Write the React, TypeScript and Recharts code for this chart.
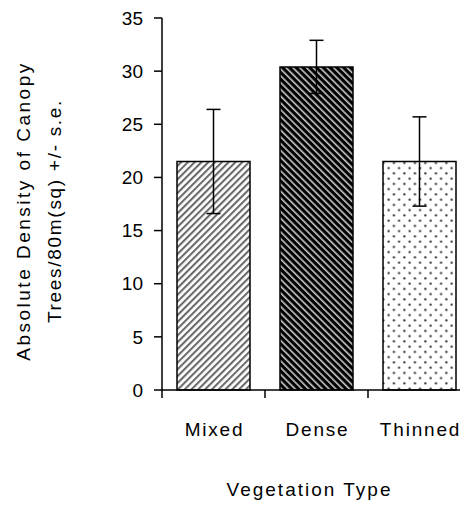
import { Bar, BarChart, Cell, ErrorBar, Label, XAxis, YAxis } from 'recharts';

const categories = ['Mixed', 'Dense', 'Thinned'];
const densityMeans = [21.5, 30.4, 21.5];
const densityErrors = [4.9, 2.5, 4.2];
const yTicks = [0, 5, 10, 15, 20, 25, 30, 35];
const fills = ['url(#patMixed)', 'url(#patDense)', 'url(#patThinned)'];

const data = categories.map((name, i) => ({
  name,
  density: densityMeans[i],
  se: densityErrors[i],
}));

const font = '"Liberation Sans", Arial, sans-serif';
const TICK_SIZE = 8;

const CategoryTick = (props: any) => {
  const { x, y, payload, width } = props;
  const step = width ? width / categories.length : 103;
  const axisY = y - TICK_SIZE;
  const left = x - step / 2;
  return (
    <g>
      <line x1={left} x2={left} y1={axisY} y2={axisY + TICK_SIZE} stroke="#000" strokeWidth={1.5} />
      <text
        x={x}
        dx={1}
        y={axisY + 46}
        textAnchor="middle"
        fontSize={19}
        letterSpacing={1.8}
        fontFamily={font}
        fill="#000"
      >
        {payload.value}
      </text>
    </g>
  );
};

const YTitle = (props: any) => {
  const vb = props.viewBox || {};
  const cy = (vb.y ?? 10) + (vb.height ?? 372) / 2 + 7;
  return (
    <g fontSize={19} fontFamily={font} fill="#000">
      <text
        x={15}
        y={cy}
        transform={`rotate(-90 15 ${cy})`}
        textAnchor="middle"
        dominantBaseline="central"
        letterSpacing={2.5}
      >
        Absolute Density of Canopy
      </text>
      <text
        x={46}
        y={cy}
        transform={`rotate(-90 46 ${cy})`}
        textAnchor="middle"
        dominantBaseline="central"
        letterSpacing={1.7}
      >
        Trees/80m(sq) +/- s.e.
      </text>
    </g>
  );
};

const XTitle = (props: any) => {
  const vb = props.viewBox || {};
  const cx = (vb.x ?? 154) + (vb.width ?? 309) / 2 - 7;
  return (
    <text x={cx} y={488} textAnchor="middle" fontSize={19} letterSpacing={2} fontFamily={font} fill="#000">
      Vegetation Type
    </text>
  );
};

export default function App() {
  return (
    <div style={{ width: 460, height: 497, overflow: 'hidden', background: '#fff' }}>
      <BarChart
        width={470}
        height={497}
        data={data}
        margin={{ top: 10, right: 7, left: 0, bottom: 0 }}
        barSize={73}
      >
        <defs>
          <pattern id="patMixed" patternUnits="userSpaceOnUse" width={4.8} height={4.8} patternTransform="rotate(45)">
            <rect width={4.8} height={4.8} fill="#fff" />
            <rect width={2.1} height={4.8} fill="#6a6a6a" />
          </pattern>
          <pattern id="patDense" patternUnits="userSpaceOnUse" width={4.8} height={4.8} patternTransform="rotate(-45)">
            <rect width={4.8} height={4.8} fill="#000" />
            <rect width={1.6} height={4.8} fill="#c8c8c8" />
          </pattern>
          <pattern id="patThinned" patternUnits="userSpaceOnUse" width={10.5} height={10.5}>
            <rect width={10.5} height={10.5} fill="#fff" />
            <circle cx={2.6} cy={2.6} r={1.2} fill="#444" />
            <circle cx={7.9} cy={7.9} r={1.2} fill="#444" />
          </pattern>
        </defs>
        <XAxis
          dataKey="name"
          axisLine={{ stroke: '#000', strokeWidth: 1.5 }}
          tickLine={false}
          tickSize={TICK_SIZE}
          tickMargin={0}
          tick={<CategoryTick />}
          height={115}
          interval={0}
        >
          <Label content={<XTitle />} />
        </XAxis>
        <YAxis
          type="number"
          domain={[0, 35]}
          ticks={yTicks}
          interval={0}
          width={154}
          axisLine={{ stroke: '#000', strokeWidth: 1.5 }}
          tickLine={{ stroke: '#000', strokeWidth: 1.5 }}
          tickSize={TICK_SIZE}
          tickMargin={11}
          tick={{ fill: '#000', fontSize: 19, fontFamily: font }}
        >
          <Label content={<YTitle />} />
        </YAxis>
        <Bar dataKey="density" stroke="#000" strokeWidth={1.5} isAnimationActive={false}>
          {data.map((d, i) => (
            <Cell key={d.name} fill={fills[i]} />
          ))}
          <ErrorBar dataKey="se" width={7} stroke="#000" strokeWidth={1.5} direction="y" />
        </Bar>
      </BarChart>
    </div>
  );
}
